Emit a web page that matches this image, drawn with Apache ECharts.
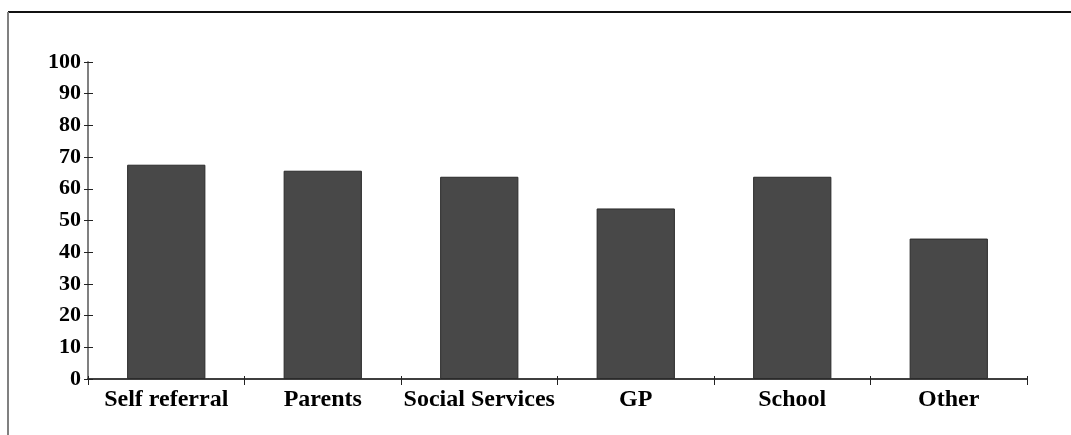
<!DOCTYPE html>
<html>
<head>
<meta charset="utf-8">
<script src="https://cdn.jsdelivr.net/npm/echarts@6/dist/echarts.min.js"></script>
<style>html,body{margin:0;padding:0;background:#fff;}#c{width:1071px;height:435px;}</style>
</head>
<body>
<div id="c"></div>
<script>
var categories = ['Self referral', 'Parents', 'Social Services', 'GP', 'School', 'Other'];
var values = [67.6, 65.7, 63.8, 53.8, 63.8, 44.3];
var yTicks = [0, 10, 20, 30, 40, 50, 60, 70, 80, 90, 100];

var chart = echarts.init(document.getElementById('c'), null, {renderer: 'canvas'});
var font = '"Liberation Serif", "Times New Roman", serif';
chart.setOption({
  animation: false,
  backgroundColor: '#fff',
  grid: {left: 88, right: 44, top: 62, bottom: 56, containLabel: false},
  graphic: [
    {type: 'line', shape: {x1: 8, y1: 12, x2: 1071, y2: 12}, style: {stroke: '#111', lineWidth: 2}},
    {type: 'line', shape: {x1: 8, y1: 12, x2: 8, y2: 435}, style: {stroke: '#808080', lineWidth: 2}}
  ],
  xAxis: [{
    type: 'category',
    data: categories,
    boundaryGap: true,
    axisLine: {show: true, lineStyle: {color: '#000', width: 1.5}},
    axisTick: {show: true, alignWithLabel: false, length: 6, lineStyle: {color: '#222', width: 1}},
    axisLabel: {margin: 9, color: '#000', fontFamily: font, fontWeight: 'bold', fontSize: 24, interval: 0}
  }, {
    type: 'category',
    data: categories,
    position: 'bottom',
    boundaryGap: true,
    axisLine: {show: false},
    axisTick: {show: true, inside: true, length: 3, lineStyle: {color: '#222', width: 1}},
    axisLabel: {show: false}
  }],
  yAxis: [{
    type: 'value',
    min: 0, max: 100, interval: 10,
    splitLine: {show: false},
    axisLine: {show: true, lineStyle: {color: '#808080', width: 2}},
    axisTick: {show: true, length: 4, lineStyle: {color: '#222', width: 1}},
    axisLabel: {margin: 7, color: '#000', fontFamily: font, fontWeight: 'bold', fontSize: 22,
      padding: [4, 0, 0, 0],
      formatter: function (v) { return yTicks.indexOf(v) >= 0 ? String(v) : ''; }}
  }, {
    type: 'value',
    position: 'left',
    min: 0, max: 100, interval: 10,
    splitLine: {show: false},
    axisLine: {show: false},
    axisTick: {show: true, inside: true, length: 5, lineStyle: {color: '#222', width: 1}},
    axisLabel: {show: false}
  }],
  series: [{
    type: 'bar',
    data: values,
    barWidth: '50%',
    itemStyle: {color: '#484848', borderColor: '#2a2a2a', borderWidth: 1}
  }]
});
</script>
</body>
</html>
